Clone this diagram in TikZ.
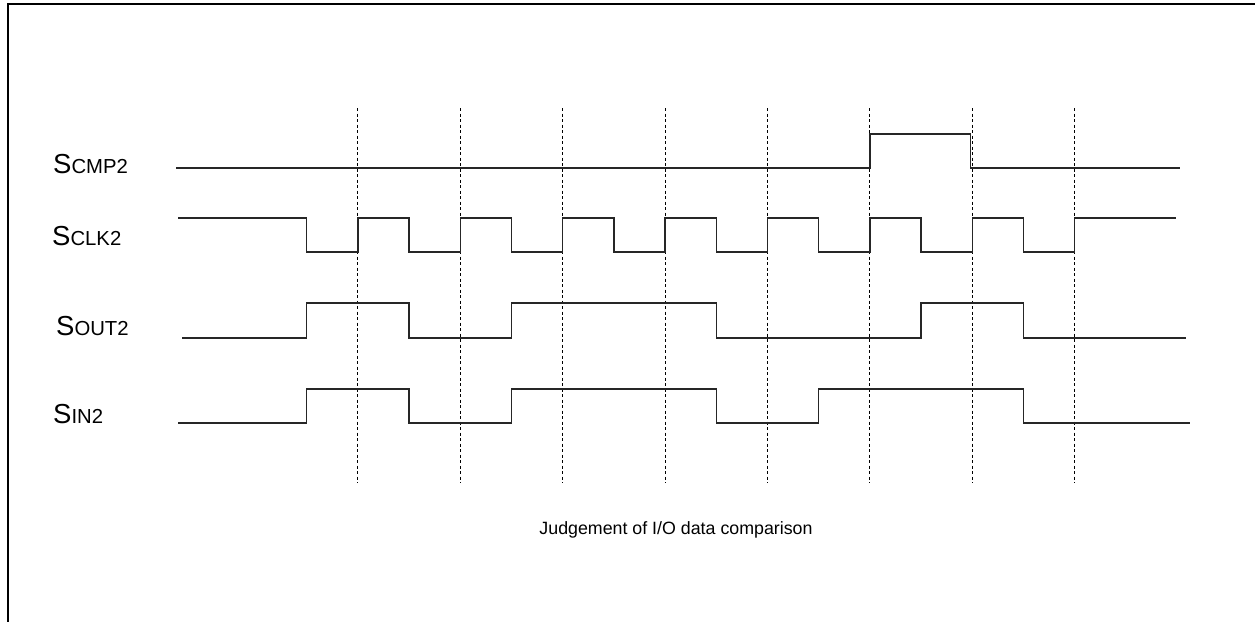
\documentclass[tikz,border=0pt]{standalone}
\usepackage{fontspec}
\setmainfont{Liberation Sans}
\begin{document}
\begin{tikzpicture}[x=1pt,y=-1pt,
  framel/.style={line width=2pt,black},
  sig/.style={line width=1.3pt,black!85},
  gridline/.style={line width=1pt,black,dash pattern=on 3pt off 2.5pt},
  lbl/.style={inner sep=0pt,anchor=base west},
  captxt/.style={inner sep=0pt,anchor=base,font=\fontsize{17.8}{20}\selectfont}]
\useasboundingbox (0,0) rectangle (1255,621);
\newcommand{\bigS}{\fontsize{27.5}{30}\selectfont S}
\newcommand{\smc}[1]{\fontsize{20.3}{22}\selectfont #1}
% frame
\draw[framel] (8,625) -- (8,4) -- (1260,4);
% dotted timing lines
\foreach \x [count=\i] in {357.9,460.3,562.7,665.1,767.5,869.9,972.3,1074.7}
  \draw[gridline] (\x,108) coordinate (gt\i) -- (\x,483) coordinate (gb\i);
% labels
\node[lbl] (lcmp) at (53,173) {\bigS\smc{CMP2}};
\node[lbl] (lclk) at (52,245) {\bigS\smc{CLK2}};
\node[lbl] (lout) at (56,335) {\bigS\smc{OUT2}};
\node[lbl] (lin)  at (53,423) {\bigS\smc{IN2}};
% waveforms
\draw[sig] (176,168) -| (869.9,134) -| (970.7,168) -- (1180,168);
\draw[sig] (178,218) -| (306.7,252) -| (357.9,218) -| (409.1,252) -| (460.3,218)
  -| (511.5,252) -| (562.7,218) -| (613.9,252) -| (665.1,218) -| (716.3,252)
  -| (767.5,218) -| (818.7,252) -| (869.9,218) -| (921.1,252) -| (972.3,218)
  -| (1023.5,252) -| (1074.7,218) -- (1176,218);
\draw[sig] (182,338) -| (306.7,303) -| (409.1,338) -| (511.5,303) -| (716.3,338)
  -| (921.1,303) -| (1023.5,338) -- (1186,338);
\draw[sig] (178,423) -| (306.7,389) -| (409.1,423) -| (511.5,389) -| (716.3,423)
  -| (818.7,389) -| (1023.5,423) -- (1190,423);
% caption
\node[captxt] (caption) at (676,534) {Judgement of I/O data comparison};
\end{tikzpicture}
\end{document}
